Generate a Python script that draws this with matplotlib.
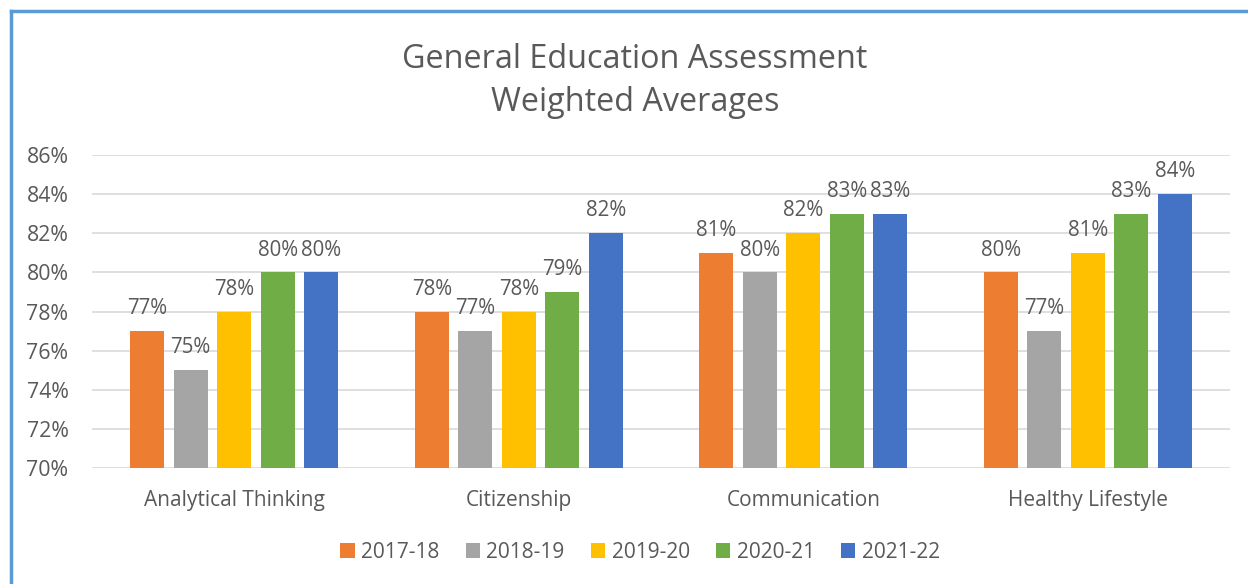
import numpy as np
import matplotlib.pyplot as plt
from matplotlib.lines import Line2D

# data
categories = ["Analytical Thinking", "Citizenship", "Communication", "Healthy Lifestyle"]
years = ["2017-18", "2018-19", "2019-20", "2020-21", "2021-22"]
vals_2017 = [77, 78, 81, 80]
vals_2018 = [75, 77, 80, 77]
vals_2019 = [78, 78, 82, 81]
vals_2020 = [80, 79, 83, 83]
vals_2021 = [80, 82, 83, 84]
colors = ["#ed7d31", "#a5a5a5", "#ffc000", "#70ad47", "#4472c4"]

series = [vals_2017, vals_2018, vals_2019, vals_2020, vals_2021]
txt = "#595959"

plt.rcParams['font.family'] = ['Open Sans', 'DejaVu Sans']

fig = plt.figure(figsize=(12.48, 5.84), dpi=100)
ax = fig.add_axes([92/1248, 1-468/584, (1230-92)/1248, (468-155)/584])

x = np.arange(len(categories))
step = 0.153
width = 0.12
for i, (vals, col, yr) in enumerate(zip(series, colors, years)):
    pos = x + (i - 2) * step
    bars = ax.bar(pos, vals, width=width, color=col, label=yr, zorder=3)
    for b, v in zip(bars, vals):
        ax.annotate(f"{v}%", (b.get_x() + b.get_width()/2, v),
                    xytext=(0, 8.5), textcoords="offset points",
                    ha="center", va="bottom", fontsize=14.8, color=txt)

ax.set_ylim(70, 86)
ax.set_yticks(range(70, 87, 2))
ax.set_yticklabels([f"{t}%" for t in range(70, 87, 2)])
ax.set_xlim(-0.5, len(categories) - 0.5)
ax.set_xticks(x)
ax.set_xticklabels(categories)
ax.tick_params(axis='y', length=0, labelsize=15.3, labelcolor=txt, pad=17)
ax.tick_params(axis='x', length=0, labelsize=15, labelcolor=txt, pad=16)
ax.grid(axis='y', color="#d9d9d9", linewidth=1.2, zorder=0)
for s in ax.spines.values():
    s.set_visible(False)

fig.text(635/1248, 1-81/584, "General Education Assessment\nWeighted Averages",
         ha="center", va="center", fontsize=23.3, color=txt, linespacing=1.4)

ax.legend(loc="center", bbox_to_anchor=(640/1248, 1-552/584), bbox_transform=fig.transFigure,
          ncol=5, frameon=False, fontsize=15, labelcolor=txt,
          handlelength=0.7, handleheight=0.7, handletextpad=0.3, columnspacing=1.25)

# outer blue frame (left and top edges visible)
fig.add_artist(Line2D([11/1248, 11/1248], [0, 1-11/584], color="#5b9bd5", linewidth=2.5))
fig.add_artist(Line2D([11/1248, 1], [1-11/584, 1-11/584], color="#5b9bd5", linewidth=2.5))

fig.savefig("out.png", dpi=100)
